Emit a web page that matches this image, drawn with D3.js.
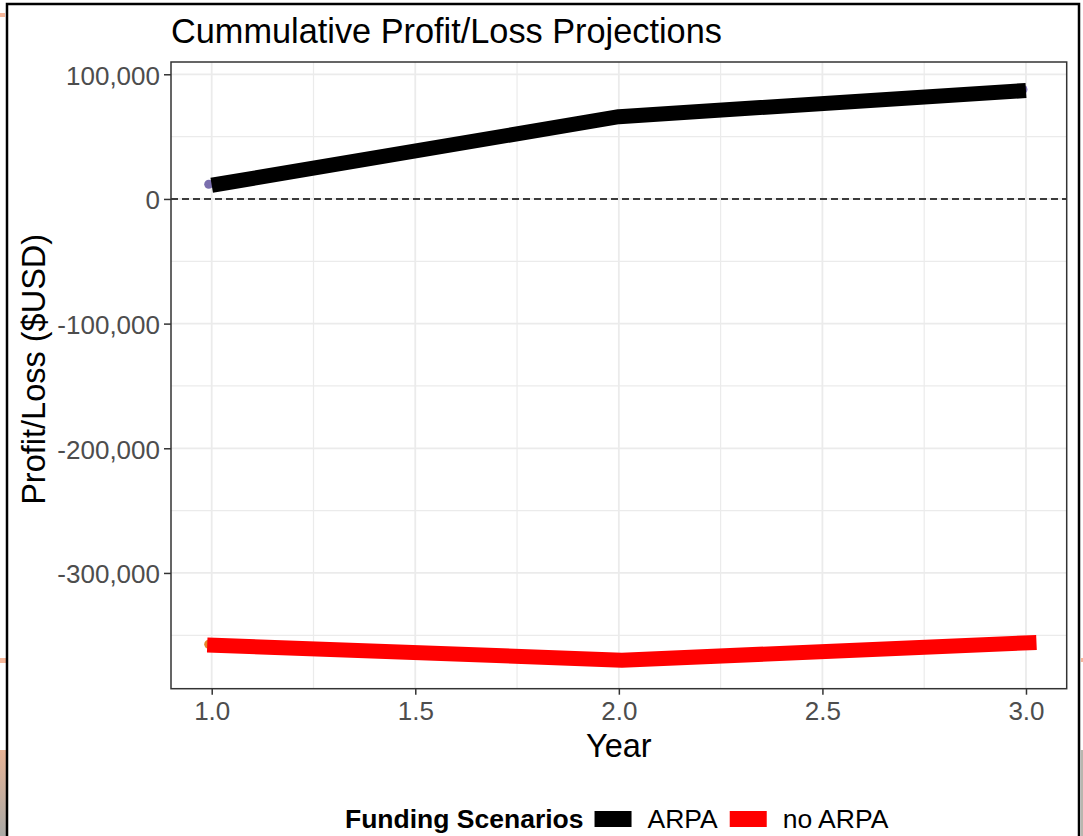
<!DOCTYPE html>
<html>
<head>
<meta charset="utf-8">
<script src="https://cdn.jsdelivr.net/npm/d3@7"></script>
<style>
    body { margin: 0; background: #fff; }
    text { font-family: "Liberation Sans", Arial, sans-serif; }
</style>
</head>
<body>
<svg id="chart"></svg>
<script>
// Data
const years = [1, 2, 3];
const arpaValues = [11000, 66000, 87000];
const noArpaValues = [-358000, -370000, -356000];
const scenarioNames = ["ARPA", "no ARPA"];
const scenarioColors = ["#000000", "#ff0000"];
const pointColors = ["#7b6fae", "#e4852a"];
const xTickValues = [1.0, 1.5, 2.0, 2.5, 3.0];
const xMinorValues = [1.25, 1.75, 2.25, 2.75];
const yTickValues = [100000, 0, -100000, -200000, -300000];
const yMinorValues = [50000, -50000, -150000, -250000, -350000];

const width = 1083;
const height = 836;

const svg = d3.select("#chart")
    .attr("width", width)
    .attr("height", height);

const margins = { top: 62, right: 16.3, bottom: 147.3, left: 171 };
const graphWidth = width - margins.left - margins.right;
const graphHeight = height - margins.top - margins.bottom;

// background bits from the slide behind the screenshot
svg.append("rect").attr("x", 0).attr("y", 13).attr("width", 5).attr("height", 4).attr("fill", "#f6b79a");
svg.append("rect").attr("x", 0).attr("y", 658).attr("width", 6).attr("height", 5).attr("fill", "#f6b79a");
svg.append("rect").attr("x", 1081).attr("y", 658).attr("width", 2).attr("height", 4).attr("fill", "#f6b79a");
const grad = svg.append("defs").append("linearGradient")
    .attr("id", "edge").attr("x1", 0).attr("x2", 0).attr("y1", 0).attr("y2", 1);
grad.append("stop").attr("offset", "0%").attr("stop-color", "#e9b496");
grad.append("stop").attr("offset", "100%").attr("stop-color", "#a9a9a6");
svg.append("rect").attr("x", 0).attr("y", 750).attr("width", 6).attr("height", 86).attr("fill", "url(#edge)");
svg.append("rect").attr("x", 1081).attr("y", 750).attr("width", 2).attr("height", 86).attr("fill", "#b8b6ae");

// screenshot frame
svg.append("rect")
    .attr("x", 7)
    .attr("y", 4)
    .attr("width", 1072)
    .attr("height", 860)
    .attr("fill", "white")
    .attr("stroke", "black")
    .attr("stroke-width", 2.5);

const graphGroup = svg.append("g")
    .attr("transform", `translate(${margins.left}, ${margins.top})`);

// scales with ggplot style 5% expansion
const xExt = d3.extent(years);
const xPad = (xExt[1] - xExt[0]) * 0.05;
const xScale = d3.scaleLinear()
    .domain([xExt[0] - xPad, xExt[1] + xPad])
    .range([0, graphWidth]);

const yExt = d3.extent(arpaValues.concat(noArpaValues));
const yPad = (yExt[1] - yExt[0]) * 0.05;
const yScale = d3.scaleLinear()
    .domain([yExt[0] - yPad, yExt[1] + yPad])
    .range([graphHeight, 0]);

// grid
graphGroup.selectAll(".xminor").data(xMinorValues).enter().append("line")
    .attr("x1", d => xScale(d)).attr("x2", d => xScale(d))
    .attr("y1", 0).attr("y2", graphHeight)
    .attr("stroke", "#ebebeb").attr("stroke-width", 1.2);
graphGroup.selectAll(".yminor").data(yMinorValues).enter().append("line")
    .attr("x1", 0).attr("x2", graphWidth)
    .attr("y1", d => yScale(d)).attr("y2", d => yScale(d))
    .attr("stroke", "#ebebeb").attr("stroke-width", 1.2);
graphGroup.selectAll(".xmajor").data(xTickValues).enter().append("line")
    .attr("x1", d => xScale(d)).attr("x2", d => xScale(d))
    .attr("y1", 0).attr("y2", graphHeight)
    .attr("stroke", "#ebebeb").attr("stroke-width", 1.8);
graphGroup.selectAll(".ymajor").data(yTickValues).enter().append("line")
    .attr("x1", 0).attr("x2", graphWidth)
    .attr("y1", d => yScale(d)).attr("y2", d => yScale(d))
    .attr("stroke", "#ebebeb").attr("stroke-width", 1.8);

// zero line
graphGroup.append("line")
    .attr("x1", 0).attr("x2", graphWidth)
    .attr("y1", yScale(0)).attr("y2", yScale(0))
    .attr("stroke", "black")
    .attr("stroke-width", 1.5)
    .attr("stroke-dasharray", "7,4");

// series
const seriesData = [arpaValues, noArpaValues].map((vals, i) => ({
    name: scenarioNames[i],
    color: scenarioColors[i],
    pointColor: pointColors[i],
    values: vals.map((v, j) => ({ year: years[j], value: v }))
}));

seriesData.forEach(s => {
    graphGroup.selectAll(null).data(s.values).enter().append("circle")
        .attr("cx", d => xScale(d.year) - 3)
        .attr("cy", d => yScale(d.value) - 1)
        .attr("r", 4.5)
        .attr("fill", s.pointColor);
});

const line = d3.line()
    .x(d => xScale(d.year))
    .y(d => yScale(d.value));

seriesData.forEach((s, i) => {
    graphGroup.append("path")
        .datum(s.values)
        .attr("d", line)
        .attr("transform", i === 0 ? null : "translate(3,0)")
        .attr("fill", "none")
        .attr("stroke", s.color)
        .attr("stroke-width", 15)
        .attr("stroke-linecap", i === 0 ? "butt" : "square")
        .attr("stroke-linejoin", "round");
});

// panel border
graphGroup.append("rect")
    .attr("width", graphWidth)
    .attr("height", graphHeight)
    .attr("fill", "none")
    .attr("stroke", "#333333")
    .attr("stroke-width", 1.5);

// axes
const xAxisGroup = graphGroup.append("g")
    .attr("transform", `translate(0, ${graphHeight})`);
const yAxisGroup = graphGroup.append("g");

const xAxis = d3.axisBottom(xScale)
    .tickValues(xTickValues)
    .tickSize(6)
    .tickPadding(7)
    .tickFormat(d3.format(".1f"));
const yAxis = d3.axisLeft(yScale)
    .tickValues(yTickValues)
    .tickSize(7)
    .tickPadding(4)
    .tickFormat(d => d3.format(",")(d).replace("\u2212", "-"));

xAxisGroup.call(xAxis);
yAxisGroup.call(yAxis);

[xAxisGroup, yAxisGroup].forEach(g => {
    g.select(".domain").remove();
    g.selectAll(".tick line").attr("stroke", "#333333").attr("stroke-width", 1.5);
    g.selectAll(".tick text")
        .attr("fill", "#4d4d4d")
        .style("font-size", "26px")
        .style("font-family", "'Liberation Sans', Arial, sans-serif");
});
xAxisGroup.selectAll(".tick text").attr("dy", "0.71em");
yAxisGroup.selectAll(".tick text").attr("dy", "0.38em");

// titles
svg.append("text")
    .attr("x", margins.left)
    .attr("y", 43)
    .style("font-size", "34.3px")
    .attr("fill", "black")
    .text("Cummulative Profit/Loss Projections");

svg.append("text")
    .attr("x", margins.left + graphWidth / 2)
    .attr("y", 757)
    .attr("text-anchor", "middle")
    .style("font-size", "32.5px")
    .attr("fill", "black")
    .text("Year");

svg.append("text")
    .attr("transform", `translate(45, ${margins.top + graphHeight / 2 - 6}) rotate(-90)`)
    .attr("text-anchor", "middle")
    .style("font-size", "32.5px")
    .attr("fill", "black")
    .text("Profit/Loss ($USD)");

// legend
const legendGroup = svg.append("g");
const legendBaseline = 828;
const legendTitle = legendGroup.append("text")
    .attr("x", 345)
    .attr("y", legendBaseline)
    .style("font-size", "26.5px")
    .style("font-weight", "bold")
    .attr("fill", "black")
    .text("Funding Scenarios");

let cursor = 345 + legendTitle.node().getComputedTextLength() + 11;
scenarioNames.forEach((name, i) => {
    legendGroup.append("rect")
        .attr("x", cursor)
        .attr("y", 811)
        .attr("width", 37)
        .attr("height", 16)
        .attr("fill", scenarioColors[i]);
    cursor += 37 + 16;
    const label = legendGroup.append("text")
        .attr("x", cursor)
        .attr("y", legendBaseline)
        .style("font-size", "26.5px")
        .attr("fill", "black")
        .text(name);
    cursor += label.node().getComputedTextLength() + 12;
});
</script>
</body>
</html>
